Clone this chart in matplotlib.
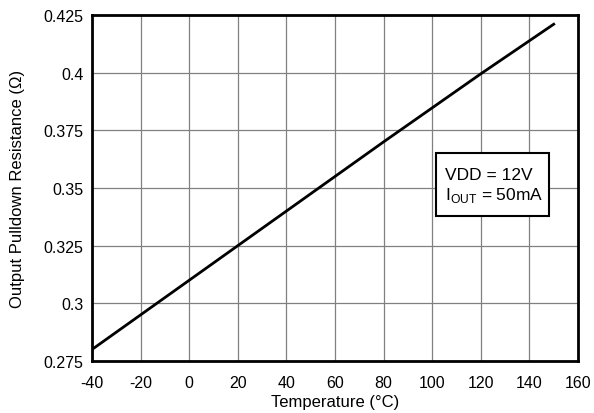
import matplotlib
matplotlib.use("Agg")
import matplotlib.pyplot as plt
from matplotlib.patches import Rectangle

plt.rcParams['font.family'] = ['Liberation Sans', 'DejaVu Sans']
plt.rcParams['axes.unicode_minus'] = False

temperature = [-40, 0, 40, 80, 120, 150]
resistance = [0.2800, 0.3100, 0.3400, 0.3700, 0.3995, 0.4210]
x_ticks = [-40, -20, 0, 20, 40, 60, 80, 100, 120, 140, 160]
y_ticks = [0.275, 0.3, 0.325, 0.35, 0.375, 0.4, 0.425]
y_tick_labels = ['0.275', '0.3', '0.325', '0.35', '0.375', '0.4', '0.425']

fig = plt.figure(figsize=(5.94, 4.14), dpi=100)
ax = fig.add_axes([92/594, 1-362/414, (578-92)/594, (362-16)/414])
ax.plot(temperature, resistance, color='black', lw=2, zorder=3)
ax.set_xlim(-40, 160)
ax.set_ylim(0.275, 0.425)
ax.set_xticks(x_ticks)
ax.set_yticks(y_ticks)
ax.set_yticklabels(y_tick_labels)
ax.grid(True, color='#808080', lw=0.9)
ax.tick_params(length=0, labelsize=11.5)
ax.tick_params(axis='x', pad=10)
ax.tick_params(axis='y', pad=6)
for s in ax.spines.values():
    s.set_linewidth(2)
ax.set_xlabel('Temperature (°C)', fontsize=12)
ax.set_ylabel('Output Pulldown Resistance (Ω)', fontsize=12)
ax.xaxis.set_label_coords((335-92)/486, (362-395)/346)
ax.yaxis.set_label_coords((25-92)/486, 0.5)

# annotation box
x0 = -40 + (436-92)/(486/200)
x1 = -40 + (549-92)/(486/200)
y0 = 0.275 + (362-217)/(346/0.15)
y1 = 0.275 + (362-154)/(346/0.15)
ax.add_patch(Rectangle((x0, y0), x1-x0, y1-y0, facecolor='white', edgecolor='black', lw=1.5, zorder=4))
ax.text(x0 + 3.5, (y0+y1)/2 + 0.0045, 'VDD = 12V', fontsize=12.5, va='center', ha='left', zorder=5)
ax.text(x0 + 3.5, (y0+y1)/2 - 0.0045, r'I$_{\mathregular{OUT}}$ = 50mA', fontsize=12.5, va='center', ha='left', zorder=5)

fig.savefig('out.png', dpi=100)
